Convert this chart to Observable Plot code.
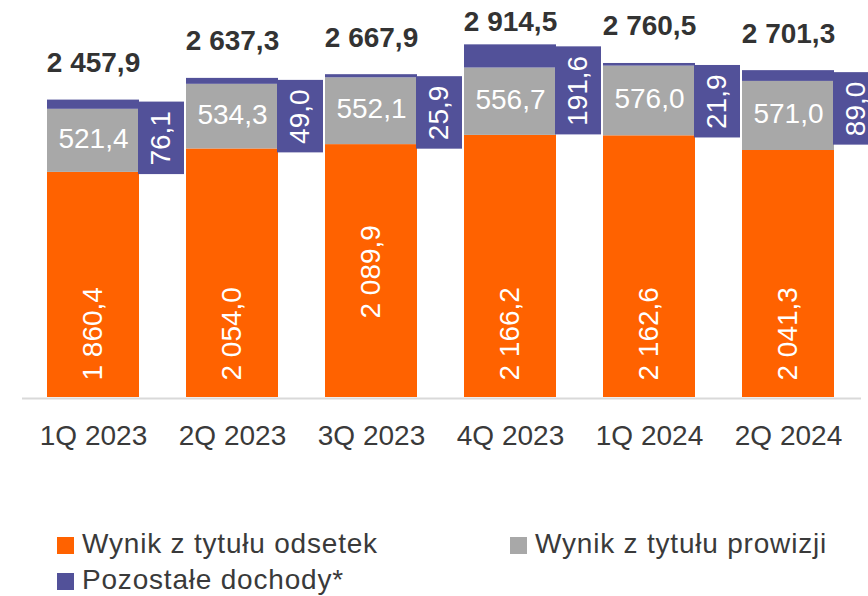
<!DOCTYPE html>
<html>
<head>
<meta charset="utf-8">
<script src="https://cdn.jsdelivr.net/npm/d3@7"></script>
<script src="https://cdn.jsdelivr.net/npm/@observablehq/plot@0.6"></script>
<style>
  html, body { margin: 0; padding: 0; background: #fff; }
  #wrap { position: relative; width: 868px; height: 596px; overflow: hidden; font-family: "Liberation Sans", Arial, sans-serif; }
  .leg { position: absolute; display: flex; align-items: center; height: 28px; font-size: 28px; line-height: 28px; color: #3a3a3a; letter-spacing: 0.8px; white-space: nowrap; }
  .sw { width: 17px; height: 17px; margin-right: 8px; margin-top: 3px; flex: none; }
</style>
</head>
<body>
<div id="wrap"><div id="chart"></div><div id="legend"></div></div>
<script>
const quarters = ["1Q 2023", "2Q 2023", "3Q 2023", "4Q 2023", "1Q 2024", "2Q 2024"];
const interest = [1860.4, 2054.0, 2089.9, 2166.2, 2162.6, 2041.3];
const commission = [521.4, 534.3, 552.1, 556.7, 576.0, 571.0];
const other = [76.1, 49.0, 25.9, 191.6, 21.9, 89.0];
const totals = [2457.9, 2637.3, 2667.9, 2914.5, 2760.5, 2701.3];
const seriesNames = ["Wynik z tytułu odsetek", "Wynik z tytułu prowizji", "Pozostałe dochody*"];
const seriesColors = ["#FF6200", "#A8A8A8", "#525199"];

const fmt = d3.formatLocale({decimal: ",", thousands: " ", grouping: [3], currency: ["", ""]}).format(",.1f");

const H = 470, MB = 73, MT = 0;
const yMax = 3281;
const k = (H - MB - MT) / yMax; // px per unit
const FS = 28;

const rows = quarters.flatMap((q, i) => [
  {q, s: seriesNames[0], v: interest[i]},
  {q, s: seriesNames[1], v: commission[i]},
  {q, s: seriesNames[2], v: other[i]}
]);

const textLen = (s) => Array.from(s).reduce((a, c) => a + (/[0-9]/.test(c) ? 0.556 : 0.278) * FS, 0);

const boxRows = quarters.map((q, i) => {
  const label = fmt(other[i]);
  const hPx = textLen(label) + 18;
  const top = totals[i] - 2 / k;
  return {q, y2: top, y1: top - hPx / k, label};
});

// label nudges (px) for interest labels
const interestLift = {"3Q 2023": 62};

const interestRows = quarters.map((q, i) => ({q, y: (interestLift[q] || 0) / k, label: fmt(interest[i])}));
const commissionRows = quarters.map((q, i) => ({q, y: interest[i] + commission[i] / 2, label: fmt(commission[i])}));
const totalRows = quarters.map((q, i) => ({q, y: Math.min(totals[i], 2800), label: fmt(totals[i])}));

const plot = Plot.plot({
  width: 868,
  height: H,
  marginTop: MT,
  marginBottom: MB,
  marginLeft: 22,
  marginRight: 7,
  style: {fontFamily: "Liberation Sans, Arial, sans-serif", fontSize: "28px", color: "#3a3a3a", background: "transparent"},
  x: {domain: quarters, range: [45, 835], paddingInner: 0.341, paddingOuter: 0, tickSize: 0, tickPadding: 28, label: null},
  y: {domain: [0, yMax], axis: null},
  color: {domain: seriesNames, range: seriesColors},
  marks: [
    Plot.ruleY([0], {stroke: "#d9d9d9", strokeWidth: 2, dy: 1}),
    Plot.barY(rows, {x: "q", y: "v", fill: "s"}),
    Plot.barY(boxRows, {x: "q", y1: "y1", y2: "y2", fill: seriesColors[2], insetLeft: 23, insetRight: 23, dx: 68}),
    Plot.text(boxRows, {x: "q", y: d => (d.y1 + d.y2) / 2, text: "label", rotate: -90, dx: 68, fill: "white", fontSize: FS}),
    Plot.text(interestRows, {x: "q", y: "y", text: "label", rotate: -90, textAnchor: "start", dy: -17, fill: "white", fontSize: FS}),
    Plot.text(commissionRows, {x: "q", y: "y", text: "label", dy: -2, fill: "white", fontSize: FS}),
    Plot.text(totalRows, {x: "q", y: "y", text: "label", dy: -37, fill: "#333", fontWeight: "bold", fontSize: FS})
  ]
});
document.getElementById("chart").appendChild(plot);

// Legend
const legendPos = [
  {left: 57, top: 530},
  {left: 510, top: 530},
  {left: 57, top: 566}
];
const legend = document.getElementById("legend");
seriesNames.forEach((name, i) => {
  const item = document.createElement("div");
  item.className = "leg";
  item.style.left = legendPos[i].left + "px";
  item.style.top = legendPos[i].top + "px";
  const sw = document.createElement("span");
  sw.className = "sw";
  sw.style.background = seriesColors[i];
  const tx = document.createElement("span");
  tx.textContent = name;
  item.appendChild(sw);
  item.appendChild(tx);
  legend.appendChild(item);
});
</script>
</body>
</html>
